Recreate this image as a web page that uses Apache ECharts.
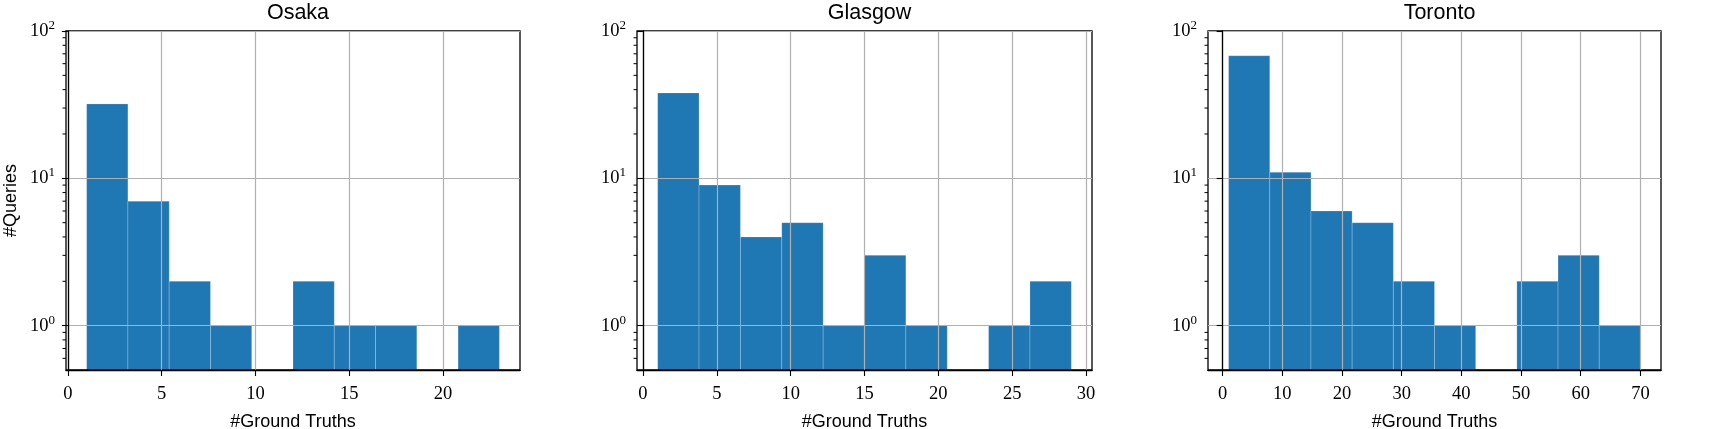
<!DOCTYPE html>
<html>
<head>
<meta charset="utf-8">
<script src="https://cdn.jsdelivr.net/npm/echarts@6/dist/echarts.min.js"></script>
<style>
  html, body { margin: 0; padding: 0; background: #fff; }
  #chart { width: 1723px; height: 429px; }
</style>
</head>
<body>
<div id="chart"></div>
<script>
// histogram bins: [left edge, right edge, count]
const osakaBins = [
  [1, 3.2, 32], [3.2, 5.4, 7], [5.4, 7.6, 2], [7.6, 9.8, 1], [9.8, 12, 0],
  [12, 14.2, 2], [14.2, 16.4, 1], [16.4, 18.6, 1], [18.6, 20.8, 0], [20.8, 23, 1]
]
const glasgowBins = [
  [1, 3.8, 38], [3.8, 6.6, 9], [6.6, 9.4, 4], [9.4, 12.2, 5], [12.2, 15, 1],
  [15, 17.8, 3], [17.8, 20.6, 1], [20.6, 23.4, 0], [23.4, 26.2, 1], [26.2, 29, 2]
]
const torontoBins = [
  [1, 7.9, 68], [7.9, 14.8, 11], [14.8, 21.7, 6], [21.7, 28.6, 5], [28.6, 35.5, 2],
  [35.5, 42.4, 1], [42.4, 49.3, 0], [49.3, 56.2, 2], [56.2, 63.1, 3], [63.1, 70, 1]
]

const cityNames = ['Osaka', 'Glasgow', 'Toronto']
const osakaXTicks = [0, 5, 10, 15, 20]
const glasgowXTicks = [0, 5, 10, 15, 20, 25, 30]
const torontoXTicks = [0, 10, 20, 30, 40, 50, 60, 70]
const yTicks = [1, 10, 100]
const yMinorTicks = [0.6, 0.7, 0.8, 0.9, 2, 3, 4, 5, 6, 7, 8, 9, 20, 30, 40, 50, 60, 70, 80, 90]

const chart = echarts.init(document.getElementById('chart'))

const BLUE = '#1f77b4'
const GRID_GRAY = '#b0b0b0'
const Y_MIN = 0.5
const Y_MAX = 100

// panel layout (px)
const panels = [
  { left: 66, width: 454, xMin: -0.1, xMax: 24.1, bins: osakaBins, ticks: osakaXTicks },
  { left: 637, width: 455, xMin: -0.4, xMax: 30.4, bins: glasgowBins, ticks: glasgowXTicks },
  { left: 1208, width: 453, xMin: -2.45, xMax: 73.45, bins: torontoBins, ticks: torontoXTicks }
]
const TOP = 31
const HEIGHT = 339

const grids = []
const xAxes = []
const yAxes = []
const series = []
const titles = []

panels.forEach((p, i) => {
  grids.push({
    left: p.left, top: TOP, width: p.width, height: HEIGHT,
    outerBoundsMode: 'none',
    containLabel: false,
    show: true, borderColor: '#000', borderWidth: 1.3, backgroundColor: 'transparent'
  })
  titles.push({
    text: cityNames[i],
    left: p.left + p.width / 2,
    textAlign: 'center',
    top: -3,
    textStyle: { fontFamily: 'Liberation Sans', fontSize: 21.5, fontWeight: 'normal', color: '#000' }
  })
  xAxes.push({
    type: 'value',
    gridIndex: i,
    min: p.xMin,
    max: p.xMax,
    name: '#Ground Truths',
    nameLocation: 'middle',
    nameGap: 43,
    nameTextStyle: { fontFamily: 'Liberation Sans', fontSize: 18, color: '#000' },
    axisLine: { show: true, lineStyle: { color: '#000', width: 1.3 } },
    axisTick: { show: true, length: 6, customValues: p.ticks, lineStyle: { color: '#000', width: 1.1 } },
    axisLabel: {
      customValues: p.ticks,
      margin: 15,
      fontFamily: 'Liberation Serif', fontSize: 18.5, color: '#000'
    },
    splitLine: { show: true, lineStyle: { color: GRID_GRAY, width: 1.2 } }
  })
  yAxes.push({
    type: 'log',
    gridIndex: i,
    min: Y_MIN,
    max: Y_MAX,
    logBase: 10,
    name: i === 0 ? '#Queries' : '',
    nameLocation: 'middle',
    nameGap: 46,
    nameTextStyle: { fontFamily: 'Liberation Sans', fontSize: 18, color: '#000' },
    axisLine: { show: true, lineStyle: { color: '#000', width: 1.3 } },
    axisTick: { show: true, length: 6, customValues: yTicks, lineStyle: { color: '#000', width: 1.1 } },
    axisLabel: {
      customValues: yTicks,
      margin: 11,
      formatter: (v) => '{b|10}{s|' + Math.round(Math.log10(v)) + '}',
      rich: {
        b: { fontFamily: 'Liberation Serif', fontSize: 18.5, color: '#000', lineHeight: 24 },
        s: { fontFamily: 'Liberation Serif', fontSize: 13, color: '#000', verticalAlign: 'top', lineHeight: 13 }
      }
    },
    splitLine: { show: true, lineStyle: { color: GRID_GRAY, width: 1.2 } }
  })

  // histogram bars, drawn beneath the grid lines
  series.push({
    type: 'custom',
    xAxisIndex: i,
    yAxisIndex: i,
    z: -1,
    data: p.bins,
    encode: { x: [0, 1], y: 2 },
    renderItem: (params, api) => {
      const count = api.value(2)
      if (!(count > 0)) return
      const tl = api.coord([api.value(0), count])
      const br = api.coord([api.value(1), Y_MIN])
      return {
        type: 'rect',
        shape: { x: tl[0], y: tl[1], width: br[0] - tl[0], height: br[1] - tl[1] },
        style: { fill: BLUE, stroke: 'rgba(255,255,255,0.3)', lineWidth: 0.7 }
      }
    }
  })

  // minor log ticks on the y axis
  series.push({
    type: 'custom',
    xAxisIndex: i,
    yAxisIndex: i,
    z: 5,
    clip: false,
    silent: true,
    data: yMinorTicks.map(v => [p.xMin, v]),
    renderItem: (params, api) => {
      const pt = api.coord([api.value(0), api.value(1)])
      return {
        type: 'line',
        shape: { x1: pt[0] - 3.5, y1: pt[1], x2: pt[0], y2: pt[1] },
        style: { stroke: '#000', lineWidth: 1 }
      }
    }
  })
})

chart.setOption({
  animation: false,
  backgroundColor: '#fff',
  title: titles,
  grid: grids,
  xAxis: xAxes,
  yAxis: yAxes,
  series: series
})
</script>
</body>
</html>
